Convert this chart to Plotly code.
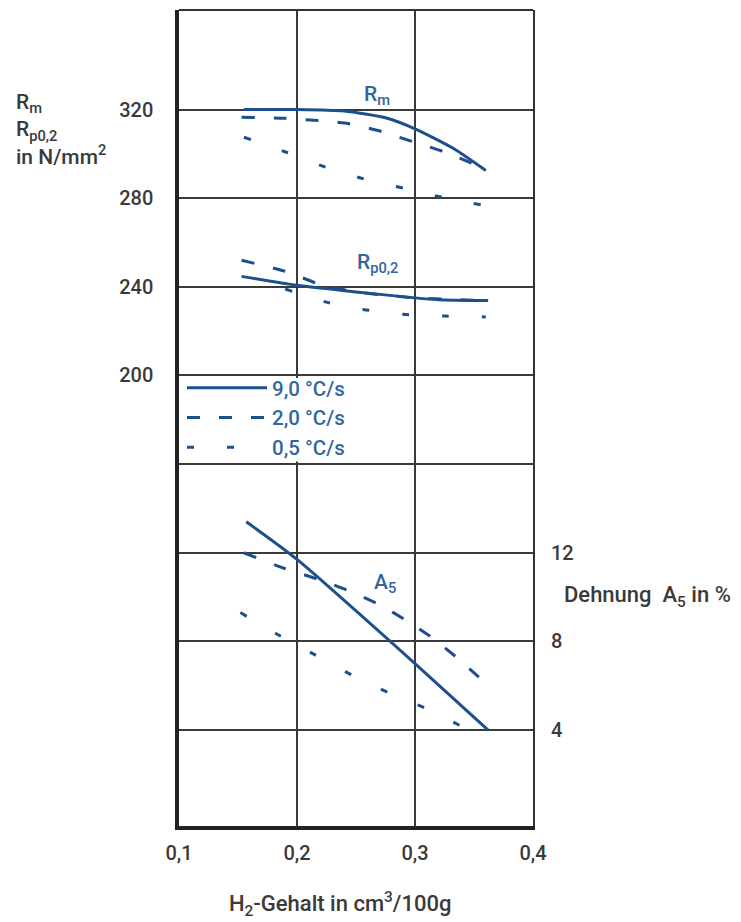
import plotly.graph_objects as go

# ---------------- data ----------------
# H2 content (cm3/100g)
rm_90_x = [0.155, 0.20, 0.24, 0.275, 0.30, 0.333, 0.36]
rm_90_y = [320.0, 320.0, 319.3, 316.3, 311.3, 302.3, 292.5]
rm_20_x = [0.153, 0.19, 0.218, 0.244, 0.272, 0.298, 0.324, 0.358]
rm_20_y = [316.5, 316.0, 315.0, 313.6, 310.0, 305.5, 301.0, 293.5]
rm_05_x = [0.155, 0.191, 0.224, 0.256, 0.291, 0.323, 0.358]
rm_05_y = [307.5, 300.7, 294.0, 288.8, 284.4, 280.4, 276.8]

rp_90_x = [0.153, 0.20, 0.25, 0.30, 0.32, 0.362]
rp_90_y = [244.7, 240.7, 237.7, 235.0, 234.2, 233.8]
rp_20_x = [0.153, 0.19, 0.22, 0.25, 0.30, 0.36]
rp_20_y = [252.0, 247.0, 241.0, 237.7, 235.0, 233.8]
rp_05_x = [0.19, 0.224, 0.256, 0.29, 0.326, 0.36]
rp_05_y = [239.0, 233.2, 229.8, 227.6, 226.8, 226.4]

a5_90_x = [0.157, 0.20, 0.30, 0.362]
a5_90_y = [13.4, 11.7, 7.0, 4.0]
a5_20_x = [0.155, 0.189, 0.218, 0.243, 0.27, 0.294, 0.315, 0.337, 0.36]
a5_20_y = [12.0, 11.3, 10.8, 10.3, 9.65, 8.9, 8.15, 7.2, 6.1]
a5_05_x = [0.152, 0.184, 0.215, 0.246, 0.277, 0.308, 0.342]
a5_05_y = [9.3, 8.3, 7.4, 6.5, 5.7, 5.0, 4.1]

x_ticks = [0.1, 0.2, 0.3, 0.4]
x_ticktext = ["0,1", "0,2", "0,3", "0,4"]
left_grid = [40, 80, 120, 160, 200, 240, 280, 320]
left_ticktext = ["", "", "", "", "200", "240", "280", "320"]
right_ticks = [4, 8, 12]
legend_names = ["9,0 °C/s", "2,0 °C/s", "0,5 °C/s"]

# ---------------- style ----------------
OFF = 8  # page body margin
W, H = 741 - OFF, 922 - OFF
L, R, T, B = 179 - OFF, 533 - OFF, 10 - OFF, 826 - OFF
LINE = "#1d4f8d"
TXT = "#3a3a3a"
LBL = "#33659f"
FONT = "Roboto"
y_range = [-3.3, 364.9]
dash_styles = ["solid", "13px,19px", "7px,33px"]


def px(xp):
    # reference-page pixel -> paper x
    return (xp - OFF - L) / (R - L)


def py(yp):
    return 1 - (yp - OFF - T) / (B - T)


fig = go.Figure()

groups = [
    (rm_90_x, rm_90_y, rm_20_x, rm_20_y, rm_05_x, rm_05_y, "y"),
    (rp_90_x, rp_90_y, rp_20_x, rp_20_y, rp_05_x, rp_05_y, "y"),
    (a5_90_x, a5_90_y, a5_20_x, a5_20_y, a5_05_x, a5_05_y, "y2"),
]
for gi, g in enumerate(groups):
    yax = g[6]
    for k in range(3):
        fig.add_trace(go.Scatter(
            x=g[2 * k], y=g[2 * k + 1], mode="lines", yaxis=yax,
            line=dict(color=LINE, width=3, dash=dash_styles[k], shape="spline", smoothing=0.6),
            name=legend_names[k], showlegend=(gi == 0), legendrank=k + 1,
            hoverinfo="skip",
        ))

tickfont = dict(size=20, color=TXT, family=FONT, weight=500)
fig.update_layout(
    width=W, height=H,
    margin=dict(l=L, r=W - R, t=T, b=H - B),
    paper_bgcolor="white", plot_bgcolor="white",
    font=dict(family=FONT, size=21, color=TXT),
    xaxis=dict(
        range=[0.1, 0.4], tickvals=x_ticks, ticktext=x_ticktext,
        showgrid=True, gridcolor="#3a3a3a", gridwidth=1.5,
        showline=True, linecolor="#222222", linewidth=3.5,
        zeroline=False, ticks="", ticklabelstandoff=6,
        tickfont=tickfont,
    ),
    yaxis=dict(
        range=y_range, tickvals=left_grid, ticktext=left_ticktext,
        showgrid=True, gridcolor="#3a3a3a", gridwidth=1.5,
        showline=True, linecolor="#222222", linewidth=3.5,
        zeroline=False, ticks="", ticklabelstandoff=18,
        tickfont=tickfont,
    ),
    yaxis2=dict(
        range=[y_range[0] / 10, y_range[1] / 10], overlaying="y", side="right",
        tickvals=right_ticks, showgrid=False, zeroline=False,
        showline=True, linecolor="#333333", linewidth=2,
        ticks="", ticklabelstandoff=12, tickfont=tickfont,
    ),
    showlegend=True,
    legend=dict(
        x=px(182), y=py(368), xanchor="left", yanchor="top",
        bgcolor="rgba(0,0,0,0)", borderwidth=0, itemwidth=80,
        font=dict(size=20.5, color=LBL, family=FONT, weight=500),
        tracegroupgap=0,
    ),
    shapes=[
        dict(type="line", xref="x domain", yref="y domain",
             x0=0, x1=1, y0=1, y1=1, line=dict(color="#333333", width=2)),
        # white patch behind the legend, hiding the grid in that cell
        dict(type="rect", xref="x", yref="y", x0=0.1015, x1=0.256, y0=161.2, y1=198.8,
             fillcolor="white", line=dict(width=0), layer="between"),
    ],
)

lblfont = dict(size=21, color=LBL, family=FONT, weight=500)
txtfont = dict(size=21, color=TXT, family=FONT, weight=500)
bigfont = dict(size=22, color=TXT, family=FONT, weight=500)
annotations = [
    dict(text="R<sub>m</sub>", x=0.2678, y=326.5, xref="x", yref="y", font=lblfont),
    dict(text="R<sub>p0,2</sub>", x=0.2686, y=250.3, xref="x", yref="y", font=lblfont),
    dict(text="A<sub>5</sub>", x=0.2746, y=10.6, xref="x", yref="y2", font=lblfont),
    dict(text="R<sub>m</sub><br>R<sub>p0,2</sub><br>in N/mm<sup>2</sup>",
         x=px(14), y=py(88), xref="paper", yref="paper", xanchor="left", yanchor="top",
         align="left", font=txtfont),
    dict(text="Dehnung  A<sub>5</sub> in %", x=px(562), y=py(596), xref="paper", yref="paper",
         xanchor="left", yanchor="middle", font=bigfont),
    dict(text="H<sub>2</sub>-Gehalt in cm<sup>3</sup>/100g", x=px(340), y=py(904),
         xref="paper", yref="paper", xanchor="center", yanchor="middle", font=bigfont),
]
for a in annotations:
    a.setdefault("showarrow", False)
    fig.add_annotation(**a)

fig.write_html("out.html")
